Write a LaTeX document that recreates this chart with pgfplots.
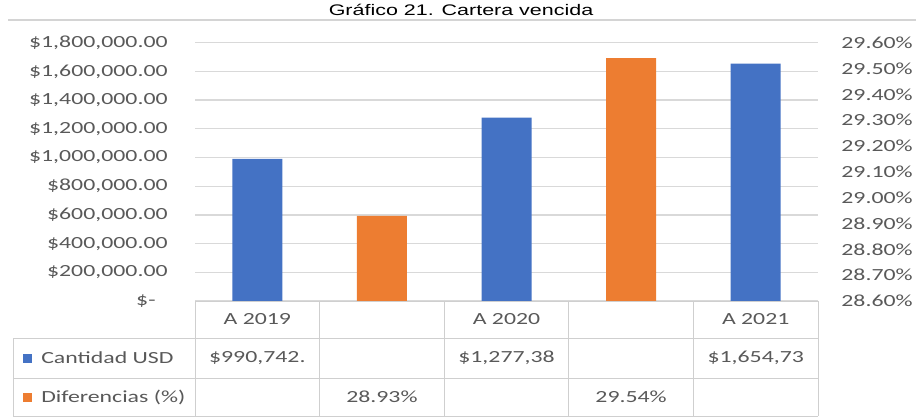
\documentclass[border=0pt]{standalone}
\usepackage{pgfplots}
\pgfplotsset{compat=1.18}
\usepackage{fontspec}
\setmainfont{Carlito}[FakeStretch=1.4]
\newfontfamily\titlefont{Liberation Sans}[FakeStretch=1.4]
\definecolor{xlblue}{HTML}{4472C4}
\definecolor{xlorange}{HTML}{ED7D31}
\definecolor{xlgrid}{HTML}{D9D9D9}
\definecolor{xlline}{HTML}{CFCFCF}
\definecolor{xltext}{HTML}{595959}
\newcommand{\lbl}{\fontsize{12.75}{14}\selectfont}
\pgfplotsset{
  xl/.style={at={(146.25pt,87.75pt)}, anchor=south west, scale only axis,
    width=467.25pt, height=193.7pt, xmin=0.5, xmax=5.5, xtick=\empty,
    axis line style={draw=none}, major tick length=0pt,
    ybar, bar width=37.5pt, scaled y ticks=false,
    tick label style={font=\lbl, text=xltext}},
}
\begin{document}
\begin{tikzpicture}[x=0.75pt,y=0.75pt]
\useasboundingbox (0,0) rectangle (916,418);
\node[anchor=base, font=\titlefont\fontsize{11.5}{13}\selectfont] at (461,402.5) {Gráfico 21. Cartera vencida};
\draw[line width=1.1pt, black!17] (8,398) -- (916,398);

\begin{axis}[xl, ymin=0, ymax=1800000, ytick={0,200000,400000,600000,800000,1000000,1200000,1400000,1600000,1800000},
    yticklabels={{\$-\hphantom{0}},{\$200,000.00},{\$400,000.00},{\$600,000.00},{\$800,000.00},{\$1,000,000.00},{\$1,200,000.00},{\$1,400,000.00},{\$1,600,000.00},{\$1,800,000.00}},
    yticklabel style={xshift=-17pt},
    ymajorgrids, grid style={xlgrid, line width=1pt}]
  \addplot[fill=xlblue, draw=none] coordinates {(1,990742) (3,1277380) (5,1654730)};
\end{axis}
\begin{axis}[xl, ymin=28.6, ymax=29.6, yticklabel pos=right,
    ytick={28.6,28.7,28.8,28.9,29.0,29.1,29.2,29.3,29.4,29.5,29.6},
    yticklabels={28.60\%,28.70\%,28.80\%,28.90\%,29.00\%,29.10\%,29.20\%,29.30\%,29.40\%,29.50\%,29.60\%},
    yticklabel style={xshift=14pt}]
  \addplot[fill=xlorange, draw=none] coordinates {(2,28.93) (4,29.54)};
\end{axis}

% data table under the plot
\begin{scope}[xlline, line width=0.75pt]
  \draw (195,117) -- (818,117);
  \foreach \y in {80,40,2} \draw (13,\y) -- (818,\y);
  \draw (13,80) -- (13,2);
  \foreach \x in {195,319.6,444.2,568.8,693.4,818} \draw (\x,117) -- (\x,2);
\end{scope}
\begin{scope}[font=\lbl, text=xltext]
  \node at (257.3,98.5) {A 2019};
  \node at (506.5,98.5) {A 2020};
  \node at (755.7,98.5) {A 2021};
  \fill[xlblue] (23,55) rectangle (32,64);
  \node[anchor=west, inner sep=0pt] at (41,60) {Cantidad USD};
  \fill[xlorange] (23,16) rectangle (32,25);
  \node[anchor=west, inner sep=0pt] at (41,21) {Diferencias (\%)};
  \node at (257.3,60) {\$990,742.};
  \node at (506.5,60) {\$1,277,38};
  \node at (755.7,60) {\$1,654,73};
  \node at (381.9,21) {28.93\%};
  \node at (631.1,21) {29.54\%};
\end{scope}
\end{tikzpicture}
\end{document}
